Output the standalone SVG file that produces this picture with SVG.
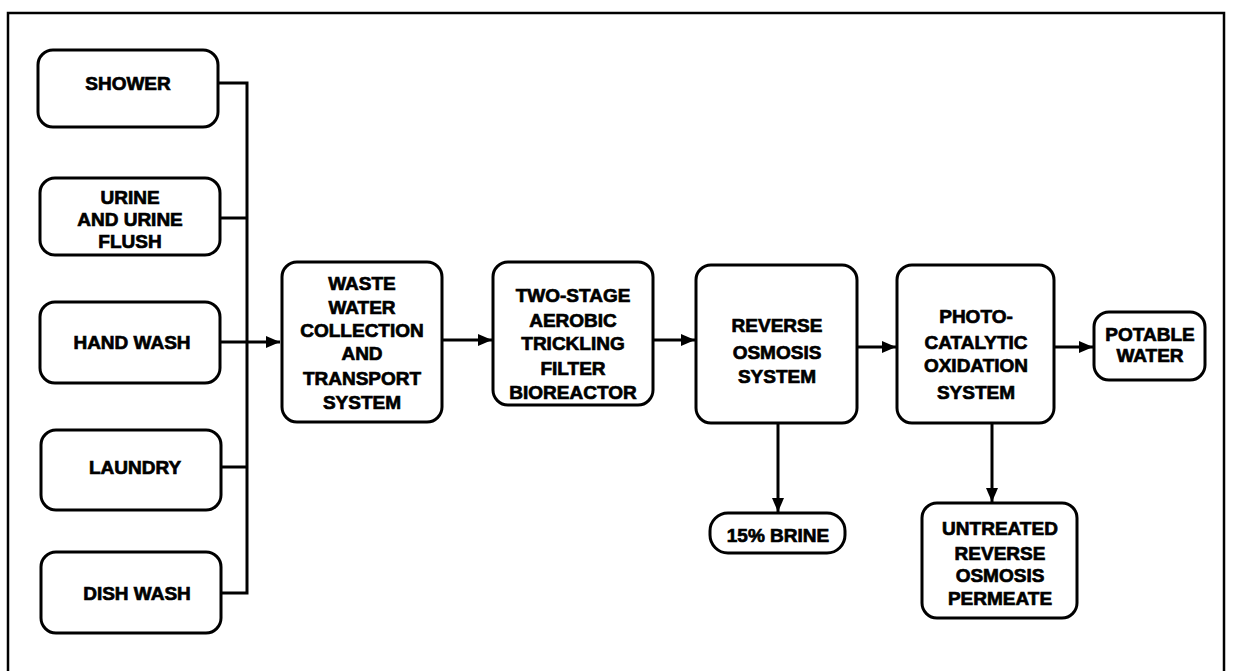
<svg xmlns="http://www.w3.org/2000/svg" width="1234" height="671" viewBox="0 0 1234 671">
<defs>
<style>
.box{fill:#fff;stroke:#000;stroke-width:3}
.t{font-family:"Liberation Sans",Arial,sans-serif;font-weight:bold;font-size:19px;text-anchor:middle;fill:#000;stroke:#000;stroke-width:0.7}
.ln{fill:none;stroke:#000;stroke-width:3}
</style>
<marker id="ah" viewBox="0 0 14 12" refX="14" refY="6" markerWidth="14" markerHeight="12" markerUnits="userSpaceOnUse" orient="auto">
<path d="M0,0 L14,6 L0,12 Z" fill="#000"/>
</marker>
</defs>
<rect width="1234" height="671" fill="#fff"/>
<path d="M8,671 V13 H1224 V671" fill="none" stroke="#000" stroke-width="2.5"/>

<g id="connectors">
<path class="ln" d="M218,83 H247 V593 H221"/>
<path class="ln" d="M220,218 H247"/>
<path class="ln" d="M221,467 H247"/>
<path class="ln" d="M220,342 H280" marker-end="url(#ah)"/>
<path class="ln" d="M442,340 H492" marker-end="url(#ah)"/>
<path class="ln" d="M653,340 H695" marker-end="url(#ah)"/>
<path class="ln" d="M857,347 H896" marker-end="url(#ah)"/>
<path class="ln" d="M1054,347 H1093" marker-end="url(#ah)"/>
<path class="ln" d="M778,423 V512" marker-end="url(#ah)"/>
<path class="ln" d="M992,423 V502" marker-end="url(#ah)"/>
</g>

<g id="shower"><rect class="box" x="38" y="50" width="180" height="77" rx="15"/>
<text class="t" x="128" y="90">SHOWER</text></g>
<g id="urine"><rect class="box" x="40" y="178" width="180" height="77" rx="15"/>
<text class="t" x="130" y="204">URINE</text>
<text class="t" x="130" y="226">AND URINE</text>
<text class="t" x="130" y="248">FLUSH</text></g>
<g id="handwash"><rect class="box" x="40" y="302" width="180" height="81" rx="15"/>
<text class="t" x="132" y="349">HAND WASH</text></g>
<g id="laundry"><rect class="box" x="41" y="430" width="180" height="80" rx="15"/>
<text class="t" x="135" y="474">LAUNDRY</text></g>
<g id="dishwash"><rect class="box" x="41" y="552" width="180" height="81" rx="15"/>
<text class="t" x="137" y="600">DISH WASH</text></g>

<g id="wastewater"><rect class="box" x="282" y="262" width="160" height="160" rx="15"/>
<text class="t" x="362" y="290">WASTE</text>
<text class="t" x="362" y="314">WATER</text>
<text class="t" x="362" y="337">COLLECTION</text>
<text class="t" x="362" y="360">AND</text>
<text class="t" x="362" y="385">TRANSPORT</text>
<text class="t" x="362" y="409">SYSTEM</text></g>

<g id="twostage"><rect class="box" x="493" y="262" width="160" height="143" rx="15"/>
<text class="t" x="573" y="302">TWO-STAGE</text>
<text class="t" x="573" y="327">AEROBIC</text>
<text class="t" x="573" y="350">TRICKLING</text>
<text class="t" x="573" y="375">FILTER</text>
<text class="t" x="573" y="399">BIOREACTOR</text></g>

<g id="reverse"><rect class="box" x="696" y="265" width="161" height="158" rx="15"/>
<text class="t" x="777" y="332">REVERSE</text>
<text class="t" x="777" y="359">OSMOSIS</text>
<text class="t" x="777" y="383">SYSTEM</text></g>

<g id="photo"><rect class="box" x="897" y="265" width="157" height="158" rx="15"/>
<text class="t" x="976" y="323">PHOTO-</text>
<text class="t" x="976" y="349">CATALYTIC</text>
<text class="t" x="976" y="372">OXIDATION</text>
<text class="t" x="976" y="399">SYSTEM</text></g>

<g id="potable"><rect class="box" x="1094" y="312" width="111" height="68" rx="15"/>
<text class="t" x="1150" y="341">POTABLE</text>
<text class="t" x="1150" y="362">WATER</text></g>

<g id="brine"><rect class="box" x="710" y="513" width="135" height="40" rx="18"/>
<text class="t" x="778" y="542">15% BRINE</text></g>

<g id="untreated"><rect class="box" x="922" y="503" width="155" height="115" rx="15"/>
<text class="t" x="1000" y="535">UNTREATED</text>
<text class="t" x="1000" y="560">REVERSE</text>
<text class="t" x="1000" y="582">OSMOSIS</text>
<text class="t" x="1000" y="605">PERMEATE</text></g>
</svg>
